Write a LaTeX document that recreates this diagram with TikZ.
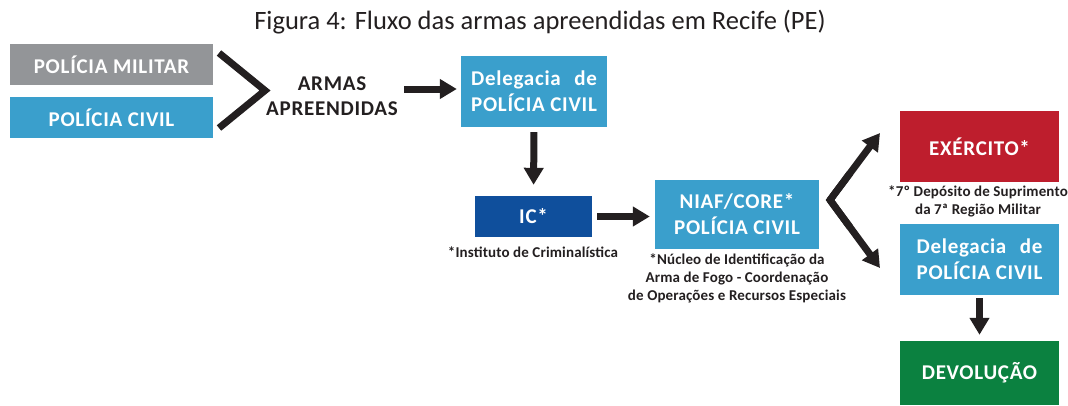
\documentclass[tikz,border=0pt]{standalone}
\usepackage{fontspec}
\setmainfont{Carlito}
\newfontfamily\boxfont{Carlito}[LetterSpace=3.5]
\newfontfamily\notefont{Carlito}[LetterSpace=1]
\usetikzlibrary{arrows.meta,calc}
\definecolor{pgray}{HTML}{939598}
\definecolor{pcyan}{HTML}{3A9FCC}
\definecolor{pblue}{HTML}{0F4F9C}
\definecolor{pred}{HTML}{BE1E2D}
\definecolor{pgreen}{HTML}{0B8140}
\definecolor{ink}{HTML}{231F20}
\newlength\pcw
\newcommand\dpc{\settowidth\pcw{POLÍCIA CIVIL}\makebox[\pcw][s]{Delegacia\hfil de}\\POLÍCIA CIVIL}
\tikzset{
  box/.style={draw=none, text=white, inner sep=0pt, align=center,
    font=\boxfont\bfseries\fontsize{21}{26}\selectfont},
  lbl/.style={text=ink, inner sep=0pt, align=center,
    font=\boxfont\bfseries\fontsize{21}{25}\selectfont},
  note/.style={text=ink, inner sep=0pt, align=center,
    font=\notefont\bfseries\fontsize{15}{18}\selectfont},
  bigarrow/.style={draw=ink, line width=7pt, -{Triangle[length=17pt,width=19pt]}},
  chev/.style={draw=ink, line width=7pt, line join=miter}
}
\begin{document}
\begin{tikzpicture}[x=1pt,y=-1pt]
\useasboundingbox (0,0) rectangle (1068,405);
\node[text=ink, font=\fontsize{26.5}{30}\selectfont, inner sep=0pt] (title) at (540,22) {Figura 4: Fluxo das armas apreendidas em Recife (PE)};
\node[box, fill=pgray, minimum width=203pt, minimum height=41pt] (pm) at (111.5,64.5) {POLÍCIA MILITAR};
\node[box, fill=pcyan, minimum width=203pt, minimum height=41pt] (pc) at (111.5,117.5) {POLÍCIA CIVIL};
\node[lbl] (armas) at (332,96) {ARMAS\\APREENDIDAS};
\node[box, fill=pcyan, minimum width=146pt, minimum height=71pt] (d1) at (534,91.5) {\dpc};
\node[box, fill=pblue, minimum width=117pt, minimum height=41pt] (ic) at (533.5,216.5) {IC*};
\node[note, anchor=north] (icnote) at (533,246.5) {*Instituto de Criminalística};
\node[note, anchor=north] (niafnote) at (737,253.5) {*Núcleo de Identificação da\\Arma de Fogo - Coordenação\\de Operações e Recursos Especiais};
\node[box, fill=pcyan, minimum width=164pt, minimum height=69pt] (niaf) at (737,214.5) {NIAF/CORE*\\POLÍCIA CIVIL};
\node[box, fill=pred, minimum width=159pt, minimum height=71pt] (ex) at (979.5,146.5) {EXÉRCITO*};
\node[note, anchor=north] (exnote) at (978,185.5) {*7º Depósito de Suprimento\\da 7ª Região Militar};
\node[box, fill=pcyan, minimum width=159pt, minimum height=71pt] (d2) at (979.5,259.5) {\dpc};
\node[box, fill=pgreen, minimum width=159pt, minimum height=64pt] (dev) at (979.5,373) {DEVOLUÇÃO};
% left chevron
\coordinate (ca) at (219,53);
\coordinate (cv) at (265,90.5);
\coordinate (cb) at (219,128);
\draw[chev] (ca) -- (cv) -- (cb);
% arrows
\coordinate (a0) at (404,89);
\draw[bigarrow, shorten >=4pt] (a0) -- (d1.west |- a0);
\draw[bigarrow, shorten <=5pt, shorten >=11pt] (d1.south) -- (ic.north);
\draw[bigarrow, shorten <=5pt, shorten >=5pt] (ic.east) -- (niaf.west |- ic.east);
\coordinate (rv) at (830,200);
\coordinate (rt) at (880,133);
\coordinate (rb) at (880,268);
\draw[bigarrow] (rv) -- (rt);
\draw[bigarrow] (rv) -- (rb);
\draw[chev] ($(rv)!0.4!(rt)$) -- (rv) -- ($(rv)!0.4!(rb)$);
\draw[bigarrow, shorten <=3pt, shorten >=6pt] (d2.south) -- (dev.north);
\end{tikzpicture}
\end{document}
